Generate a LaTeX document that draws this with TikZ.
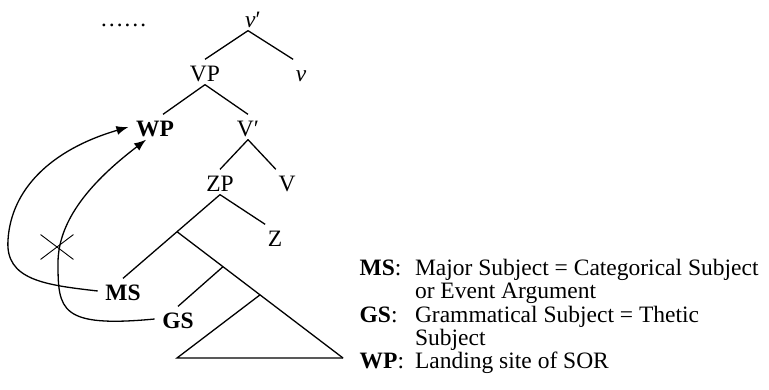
\documentclass[tikz,border=0pt]{standalone}
\usepackage{fontspec}
\setmainfont{Liberation Serif}
\usetikzlibrary{arrows.meta,shapes.misc}
\begin{document}
\begin{tikzpicture}[x=1pt,y=-1pt,line width=1.3pt,
    every node/.style={font=\fontsize{23.5}{23}\selectfont},
    tn/.style={text height=20pt,text depth=0pt,inner xsep=2pt,inner ysep=2pt},
    bn/.style={tn,font=\fontsize{23.5}{23}\selectfont\bfseries,inner xsep=7pt},
    mv/.style={-{Latex[length=12pt,width=9pt]}}]{
    \useasboundingbox (0,0) rectangle (769,390);

    \node [tn] (dd) at (123.5,17) {……};
    \node [tn] (vb) at (253,18) {\textit{v}′};
    \node [tn] (VP) at (205,72) {VP};
    \node [tn] (v) at (301,72) {\textit{v}};
    \node [bn] (WP) at (155,127) {WP};
    \node [tn] (Vb) at (248,127) {V′};
    \node [tn] (ZP) at (220,182) {ZP};
    \node [tn] (V) at (287,182) {V};
    \node [tn] (Z) at (275,237) {Z};
    \node [bn] (MS) at (123,291) {MS};
    \node [bn] (GS) at (178,319) {GS};
    \coordinate (tL) at (177,358);
    \coordinate (tR) at (343,358);

    \path ([xshift=-5pt]vb.south) edge (VP.north) edge (v.north west);
    \path (VP.south) edge ([xshift=8pt]WP.north) edge (Vb.north);
    \path (Vb.south) edge (ZP.north) edge (V.north west);
    \path (ZP.south) edge (Z.north west);
    \draw (ZP.south) -- coordinate[pos=0.443] (j1) (MS.north);
    \draw (j1) -- coordinate[pos=0.277] (j2) coordinate[pos=0.5] (tA) (tR);
    \draw (j2) -- (GS.north);
    \draw (tA) -- (tL) -- (tR);

    % raising paths
    \draw [mv] (MS.west) .. controls (45,285) and (5,280) .. (8,240)
        .. controls (11,190) and (50,150) .. (WP.west);
    \draw [mv] (GS.west) .. controls (60,328) and (58,310) .. (58,263)
        .. controls (58,215) and (100,175) .. (WP.235);
    \node [cross out, draw, line width=0.9pt, minimum width=32pt, minimum height=24pt, inner sep=0pt] (blk) at (57,247) {};

    \node [anchor=base west, inner sep=0pt] (key) at (359,276) {\begin{tabular}[t]{@{}l@{\hspace{11pt}}l@{}}
        \textbf{MS}: & Major Subject = Categorical Subject\\
        & or Event Argument\\
        \textbf{GS}: & Grammatical Subject = Thetic\\
        & Subject\\
        \textbf{WP}: & Landing site of SOR
    \end{tabular}};
    }
\end{tikzpicture}
\end{document}
